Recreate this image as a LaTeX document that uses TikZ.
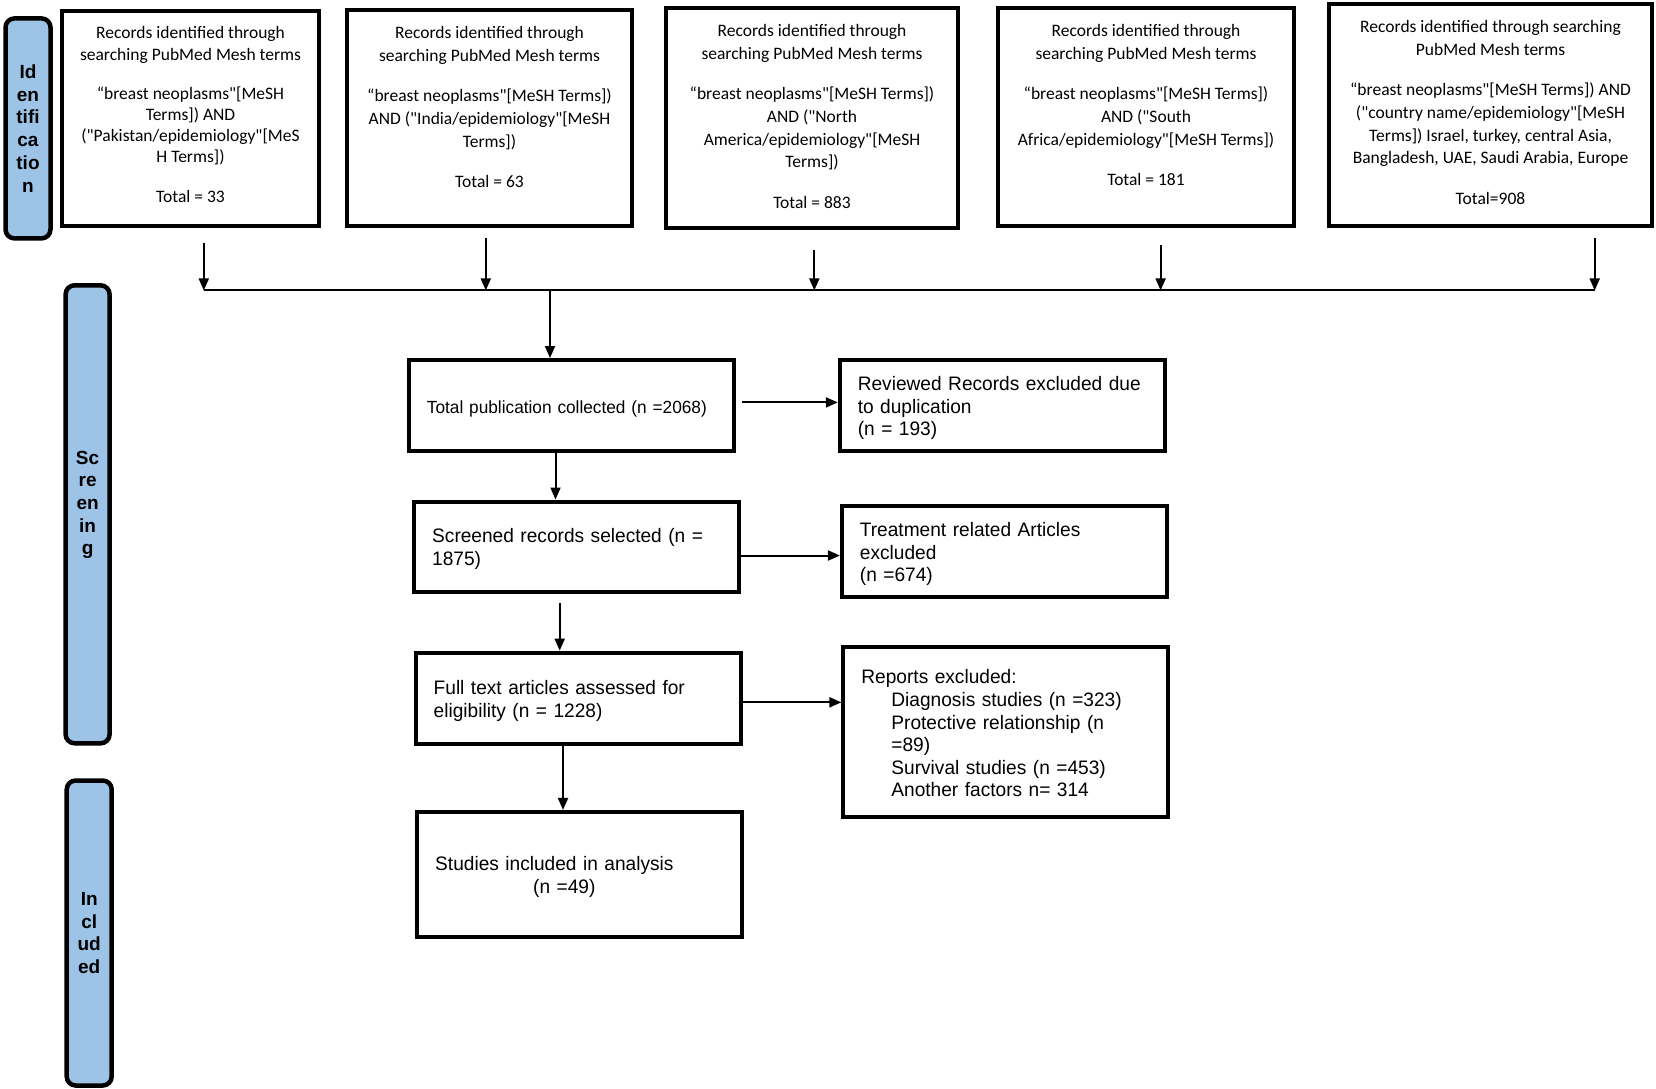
\documentclass[tikz,border=0pt]{standalone}
\usepackage{fontspec}
\setmainfont{Liberation Sans}
\newfontfamily\calfont{Carlito}
\newfontfamily\narrowfont[FakeStretch=0.98]{Liberation Sans}
\newcommand\topraise{\rule{0pt}{19.5pt}}
\usetikzlibrary{arrows.meta,calc}
\definecolor{barblue}{RGB}{157,195,230}
\begin{document}
\begin{tikzpicture}[x=1pt,y=-1pt,
  topbox/.style={draw, line width=4pt, inner sep=0pt, font=\calfont\fontsize{17.5}{22.7}\selectfont},
  lowbox/.style={draw, line width=4pt, inner xsep=18pt, inner ysep=0pt, align=left,
    minimum width=325pt, text width=289pt, font=\narrowfont\fontsize{19.5}{22.6}\selectfont},
  sidebar/.style={draw, line width=4.5pt, fill=barblue, rounded corners=9pt, inner sep=0pt,
    align=center, font=\bfseries\fontsize{19}{22.7}\selectfont},
  arr/.style={line width=2pt, -{Triangle[length=12pt,width=10pt]}},
  plain/.style={line width=2pt}]
\useasboundingbox (0,0) rectangle (1656,1088);

% side bars
\node[sidebar, minimum width=45pt, minimum height=220pt] (sid) at (28,128.4) {Id\\en\\tifi\\ca\\tio\\n};
\node[sidebar, minimum width=44pt, minimum height=458pt] (sscr) at (87.6,514.3) {Sc\\re\\en\\in\\g\\ \mbox{}};
\node[sidebar, minimum width=45pt, minimum height=305pt] (sinc) at (89.2,933) {In\\cl\\ud\\ed};

% top boxes
\node[topbox, font=\calfont\fontsize{17.5}{21.2}\selectfont] (b1) at (190.5,118.5) {\parbox[c][215pt][t]{257pt}{\centering\vspace*{13pt}\strut Records identified through\\ searching PubMed Mesh terms\\[18pt] “breast neoplasms"[MeSH\\ Terms]) AND\\ ("Pakistan/epidemiology"[MeS\\ H Terms])\\[18pt] Total = 33}};
\node[topbox] (b2) at (489.5,118) {\parbox[c][216pt][t]{285pt}{\centering\vspace*{13pt}\strut Records identified through\\ searching PubMed Mesh terms\\[17.5pt] “breast neoplasms"[MeSH Terms])\\ AND ("India/epidemiology"[MeSH\\ Terms])\\[17.5pt] Total = 63}};
\node[topbox] (b3) at (812,118) {\parbox[c][220pt][t]{292pt}{\centering\vspace*{13pt}\strut Records identified through\\ searching PubMed Mesh terms\\[17.5pt] “breast neoplasms"[MeSH Terms])\\ AND ("North\\ America/epidemiology"[MeSH\\ Terms])\\[17.5pt] Total = 883}};
\node[topbox] (b4) at (1146,117) {\parbox[c][218pt][t]{296pt}{\centering\vspace*{13pt}\strut Records identified through\\ searching PubMed Mesh terms\\[17.5pt] “breast neoplasms"[MeSH Terms])\\ AND ("South\\ Africa/epidemiology"[MeSH Terms])\\[17.5pt] Total = 181}};
\node[topbox] (b5) at (1490.5,115) {\parbox[c][222pt][t]{323pt}{\centering\vspace*{13pt}\strut Records identified through searching\\ PubMed Mesh terms\\[17.5pt] “breast neoplasms"[MeSH Terms]) AND\\ ("country name/epidemiology"[MeSH\\ Terms]) Israel, turkey, central Asia,\\ Bangladesh, UAE, Saudi Arabia, Europe\\[17.5pt] Total=908}};

% lower boxes
\node[lowbox, minimum height=91pt, font=\narrowfont\fontsize{17.6}{21}\selectfont] (tot) at (571.4,405.5) {\topraise\mbox{Total publication collected (n =2068)}};
\node[lowbox, minimum height=91pt] (rev) at (1002.3,405.5) {\topraise\mbox{Reviewed Records excluded due}\\ to duplication\\ (n = 193)};
\node[lowbox, minimum height=90pt] (scr) at (576.7,546.5) {\topraise\mbox{Screened records selected (n =}\\ 1875)};
\node[lowbox, minimum height=91pt] (trt) at (1004.4,551.3) {\topraise Treatment related Articles\\ excluded\\ (n =674)};
\node[lowbox, minimum height=91pt] (full) at (578.2,698.1) {\topraise\mbox{Full text articles assessed for}\\ eligibility (n = 1228)};
\node[lowbox, minimum height=170pt] (rep) at (1005.9,732.4) {\rule{0pt}{16pt}Reports excluded:\\ \hspace*{30pt}Diagnosis studies (n =323)\\ \hspace*{30pt}Protective relationship (n\\ \hspace*{30pt}=89)\\ \hspace*{30pt}Survival studies (n =453)\\ \hspace*{30pt}Another factors n= 314};
\node[lowbox, minimum height=125pt] (stu) at (579.7,874.4) {\topraise\mbox{Studies included in analysis}\\ \hspace*{98pt}(n =49)};

% connectors from top boxes
\coordinate (hL) at (203.8,290.4);
\coordinate (hR) at (1594.7,290.4);
\coordinate (s1) at (203.8,243);
\coordinate (s2) at (485.8,237.6);
\coordinate (s3) at (814.3,250.3);
\coordinate (s4) at (1160.6,245);
\coordinate (s5) at (1594.7,237.6);
\draw[plain] (hL) -- (hR);
\draw[arr] (s1) -- (s1 |- hL);
\draw[arr] (s2) -- (s2 |- hL);
\draw[arr] (s3) -- (s3 |- hL);
\draw[arr] (s4) -- (s4 |- hL);
\draw[arr] (s5) -- (s5 |- hL);
\coordinate (hc) at (550,290.4);
\draw[arr] (hc) -- (hc |- tot.north);

% flow connectors
\coordinate (d1) at (555.5,451);
\draw[arr] (d1 |- tot.south) -- (d1 |- scr.north);
\coordinate (d2) at (559.7,603);
\draw[arr] (d2) -- (d2 |- full.north);
\coordinate (d3) at (563,744);
\draw[arr] (d3 |- full.south) -- (d3 |- stu.north);

\coordinate (r1) at (742.4,402.4);
\draw[arr] (r1) -- (r1 -| rev.west);
\coordinate (r2) at (741.4,555.5);
\draw[arr] (r2) -- (r2 -| trt.west);
\coordinate (r3) at (742.4,702.3);
\draw[arr] (r3) -- (r3 -| rep.west);
\end{tikzpicture}
\end{document}
